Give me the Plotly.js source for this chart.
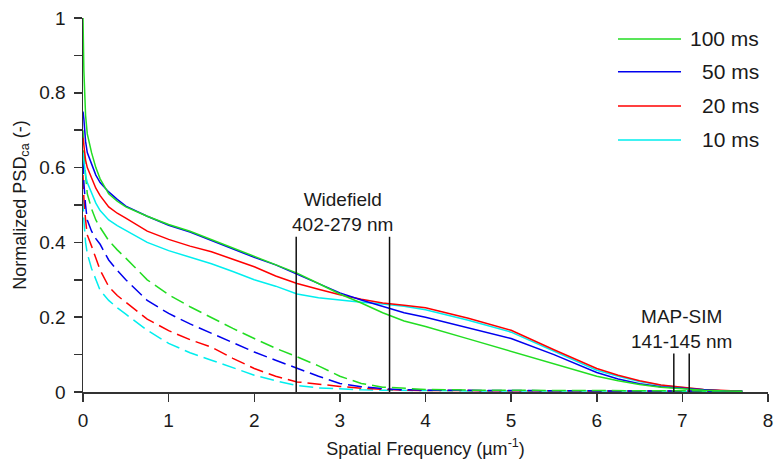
<!DOCTYPE html>
<html>
<head>
<meta charset="utf-8">
<script src="https://cdn.plot.ly/plotly-3.0.1.min.js"></script>
<style>html,body{margin:0;padding:0;background:#fff;}#chart{width:774px;height:459px;}</style>
</head>
<body>
<div id="chart"></div>
<script>
// ---- data ----
const freq = [0, 0.01, 0.03, 0.05, 0.1, 0.15, 0.2, 0.3, 0.4, 0.5, 0.75, 1.0, 1.25, 1.5, 1.75, 2.0, 2.25, 2.5, 2.75, 3.0, 3.25, 3.5, 3.75, 4.0, 4.5, 5.0, 5.5, 6.0, 6.25, 6.5, 6.75, 7.0, 7.25, 7.5, 7.7];

const seriesNames = ['100 ms', '50 ms', '20 ms', '10 ms'];

// solid curves
const solid100 = [1.0,0.86,0.74,0.69,0.64,0.6,0.57,0.53,0.51,0.495,0.47,0.448,0.43,0.408,0.385,0.362,0.342,0.318,0.29,0.262,0.238,0.212,0.19,0.175,0.142,0.108,0.075,0.042,0.03,0.02,0.013,0.008,0.005,0.003,0.002];
const solid50  = [0.75,0.73,0.67,0.64,0.61,0.58,0.56,0.535,0.515,0.497,0.47,0.446,0.428,0.405,0.383,0.36,0.34,0.315,0.29,0.265,0.246,0.228,0.212,0.2,0.172,0.143,0.1,0.052,0.035,0.022,0.014,0.009,0.006,0.003,0.002];
const solid20  = [0.68,0.66,0.62,0.6,0.57,0.545,0.525,0.495,0.478,0.465,0.43,0.408,0.39,0.375,0.355,0.335,0.31,0.29,0.275,0.26,0.248,0.238,0.232,0.225,0.197,0.165,0.113,0.063,0.045,0.03,0.019,0.012,0.007,0.004,0.002];
const solid10  = [0.64,0.62,0.58,0.56,0.53,0.505,0.485,0.46,0.445,0.432,0.4,0.378,0.36,0.343,0.322,0.3,0.283,0.262,0.252,0.245,0.24,0.235,0.229,0.22,0.192,0.16,0.11,0.058,0.042,0.028,0.018,0.011,0.006,0.003,0.002];

// dashed curves
const dashed100 = [0.7,0.64,0.58,0.53,0.49,0.46,0.44,0.405,0.38,0.358,0.3,0.26,0.228,0.198,0.17,0.143,0.117,0.094,0.07,0.042,0.023,0.013,0.009,0.007,0.005,0.005,0.004,0.004,0.004,0.003,0.003,0.003,0.003,0.002,0.002];
const dashed50  = [0.62,0.56,0.5,0.46,0.43,0.41,0.395,0.353,0.325,0.3,0.245,0.21,0.182,0.157,0.131,0.107,0.085,0.063,0.042,0.023,0.014,0.009,0.006,0.005,0.004,0.004,0.003,0.003,0.003,0.003,0.003,0.002,0.002,0.002,0.002];
const dashed20  = [0.58,0.52,0.46,0.42,0.39,0.355,0.326,0.282,0.258,0.24,0.195,0.164,0.14,0.12,0.09,0.063,0.042,0.027,0.02,0.015,0.01,0.007,0.005,0.004,0.004,0.003,0.003,0.003,0.003,0.003,0.002,0.002,0.002,0.002,0.002];
const dashed10  = [0.52,0.46,0.4,0.37,0.33,0.3,0.272,0.245,0.225,0.208,0.165,0.13,0.105,0.085,0.064,0.045,0.03,0.017,0.011,0.008,0.006,0.005,0.004,0.004,0.003,0.003,0.003,0.003,0.002,0.002,0.002,0.002,0.002,0.002,0.002];

// resolution markers (1000 / nm)
const widefieldX = [2.49, 3.58];
const widefieldTop = 0.415;
const mapsimX = [6.9, 7.08];
const mapsimTop = 0.103;
const widefieldLabel = ['Widefield', '402-279 nm'];
const mapsimLabel = ['MAP-SIM', '141-145 nm'];
const xTickVals = [0,1,2,3,4,5,6,7,8];
const yTickVals = [0,0.2,0.4,0.6,0.8,1];
const yTickText = ['0','0.2','0.4','0.6','0.8','1'];

// ---- styling ----
const colors = ['#22dd22', '#0000ee', '#ff0000', '#00eeee'];
const FONT = 'Arial, "Liberation Sans", sans-serif';
const TXT = '#1a1a1a';
const AX = '#333333';

const solids = [solid100, solid50, solid20, solid10];
const dasheds = [dashed100, dashed50, dashed20, dashed10];

const traces = [];
for (let i = 3; i >= 0; i--) {
  traces.push({x: freq, y: dasheds[i], mode: 'lines', type: 'scatter', showlegend: false,
    line: {color: colors[i], width: 1.5, dash: '14px,6px'}, hoverinfo: 'skip'});
}
for (let i = 3; i >= 0; i--) {
  traces.push({x: freq, y: solids[i], mode: 'lines', type: 'scatter', name: seriesNames[i], showlegend: false,
    line: {color: colors[i], width: 1.5}});
}
// vertical marker lines
widefieldX.forEach(v => traces.push({x: [v, v], y: [0, widefieldTop], mode: 'lines', type: 'scatter', showlegend: false,
  line: {color: '#111', width: 1.5}, hoverinfo: 'skip'}));
mapsimX.forEach(v => traces.push({x: [v, v], y: [0, mapsimTop], mode: 'lines', type: 'scatter', showlegend: false,
  line: {color: '#111', width: 1.5}, hoverinfo: 'skip'}));

// custom legend (lines + right-aligned labels) in paper coordinates
const legendY = [0.944, 0.856, 0.765, 0.674];
const shapes = [];
const annotations = [];
seriesNames.forEach((nm, i) => {
  shapes.push({type: 'line', xref: 'paper', yref: 'paper', x0: 0.781, x1: 0.873, y0: legendY[i], y1: legendY[i],
    line: {color: colors[i], width: 1.5}});
  annotations.push({xref: 'paper', yref: 'paper', x: 0.99, y: legendY[i], xanchor: 'right', yanchor: 'middle',
    text: nm, showarrow: false, font: {family: FONT, size: 21, color: TXT}});
});
annotations.push({x: 3.03, y: 0.48, xref: 'x', yref: 'y', xanchor: 'center', yanchor: 'middle',
  text: widefieldLabel.join('<br>'), showarrow: false, font: {family: FONT, size: 19, color: TXT}});
annotations.push({x: 6.99, y: 0.168, xref: 'x', yref: 'y', xanchor: 'center', yanchor: 'middle',
  text: mapsimLabel.join('<br>'), showarrow: false, font: {family: FONT, size: 19, color: TXT}});

const layout = {
  width: 774, height: 459,
  margin: {l: 83, r: 6, t: 18, b: 67},
  paper_bgcolor: '#fff', plot_bgcolor: '#fff',
  showlegend: false,
  font: {family: FONT, color: TXT, size: 19},
  xaxis: {
    range: [0, 8], tickvals: xTickVals, ticks: 'outside', ticklen: 8, tickwidth: 1.5, tickcolor: AX,
    ticklabelstandoff: 3,
    showline: true, linecolor: AX, linewidth: 1.5, showgrid: false, zeroline: false,
    tickfont: {family: FONT, size: 19, color: TXT},
    title: {text: 'Spatial Frequency (µm<sup>-1</sup>)', font: {family: FONT, size: 18, color: TXT}, standoff: 14}
  },
  yaxis: {
    range: [0, 1], tickvals: yTickVals, ticktext: yTickText, ticks: 'outside', ticklen: 8, tickwidth: 1.5, tickcolor: AX,
    ticklabelstandoff: 4,
    minor: {dtick: 0.1, ticks: 'outside', ticklen: 8, tickwidth: 1.5, tickcolor: AX, showgrid: false},
    showline: true, linecolor: AX, linewidth: 1.5, showgrid: false, zeroline: false,
    tickfont: {family: FONT, size: 19, color: TXT},
    title: {text: 'Normalized PSD<sub>ca</sub> (-)', font: {family: FONT, size: 18, color: TXT}, standoff: 8}
  },
  shapes: shapes,
  annotations: annotations
};

Plotly.newPlot('chart', traces, layout, {staticPlot: true, displayModeBar: false});
</script>
</body>
</html>
